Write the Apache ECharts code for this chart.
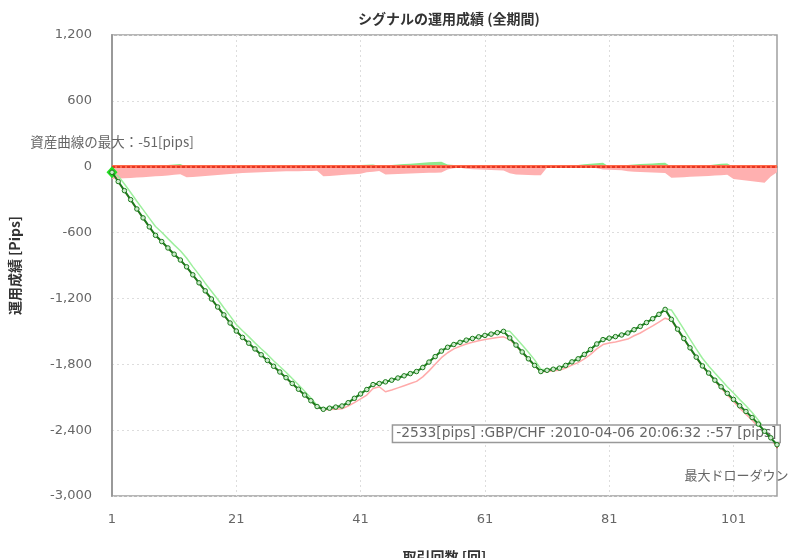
<!DOCTYPE html>
<html><head><meta charset="utf-8">
<script src="https://cdn.jsdelivr.net/npm/echarts@6/dist/echarts.min.js"></script>
<style>html,body{margin:0;padding:0;background:#fff}#c{width:789px;height:558px}</style>
</head><body><div id="c"></div>
<script>
const titleText = 'シグナルの運用成績 (全期間)';
const xName = '取引回数 [回]';
const yName = '運用成績 [Pips]';
const trades = ['1','2','3','4','5','6','7','8','9','10','11','12','13','14','15','16','17','18','19','20',
'21','22','23','24','25','26','27','28','29','30','31','32','33','34','35','36','37','38','39','40',
'41','42','43','44','45','46','47','48','49','50','51','52','53','54','55','56','57','58','59','60',
'61','62','63','64','65','66','67','68','69','70','71','72','73','74','75','76','77','78','79','80',
'81','82','83','84','85','86','87','88','89','90','91','92','93','94','95','96','97','98','99','100',
'101','102','103','104','105','106','107','108'];
const yMin = -3000, yMax = 1200, yStep = 600;
const equity = [-51,-135,-218,-300,-385,-466,-548,-625,-682,-740,-797,-850,-912,-985,-1058,-1131,-1205,-1278,-1350,-1424,
-1497,-1555,-1608,-1660,-1713,-1765,-1818,-1870,-1922,-1975,-2027,-2080,-2132,-2185,-2210,-2200,-2190,-2180,-2150,-2110,
-2070,-2030,-1985,-1975,-1960,-1945,-1925,-1905,-1885,-1866,-1830,-1780,-1730,-1680,-1645,-1620,-1600,-1580,-1565,-1550,
-1537,-1525,-1512,-1500,-1560,-1625,-1688,-1750,-1810,-1866,-1855,-1845,-1835,-1810,-1778,-1750,-1710,-1665,-1615,-1575,
-1562,-1548,-1533,-1515,-1485,-1455,-1420,-1385,-1345,-1300,-1390,-1480,-1565,-1650,-1735,-1815,-1880,-1945,-2005,-2065,
-2120,-2178,-2230,-2285,-2345,-2410,-2470,-2533];
const equityHigh = [-51,-85,-158,-235,-315,-391,-468,-545,-597,-655,-712,-765,-832,-910,-983,-1061,-1135,-1208,-1285,-1359,
-1437,-1495,-1548,-1605,-1658,-1710,-1768,-1820,-1872,-1930,-1987,-2045,-2107,-2175,-2205,-2195,-2185,-2175,-2145,-2105,
-2065,-2025,-1980,-1970,-1955,-1940,-1920,-1900,-1880,-1861,-1825,-1775,-1725,-1675,-1640,-1615,-1595,-1575,-1560,-1545,
-1532,-1520,-1507,-1495,-1500,-1560,-1625,-1690,-1760,-1845,-1850,-1840,-1830,-1805,-1773,-1745,-1705,-1660,-1610,-1570,
-1557,-1543,-1528,-1510,-1480,-1450,-1415,-1380,-1340,-1295,-1305,-1390,-1480,-1570,-1660,-1745,-1815,-1880,-1942,-2005,
-2062,-2122,-2178,-2240,-2310,-2385,-2455,-2530];
const equityLow = [-54,-138,-221,-303,-388,-469,-551,-628,-685,-743,-800,-853,-915,-988,-1061,-1134,-1208,-1281,-1353,-1427,
-1500,-1558,-1611,-1663,-1716,-1768,-1821,-1873,-1925,-1978,-2030,-2083,-2135,-2188,-2215,-2212,-2210,-2205,-2180,-2150,
-2115,-2080,-2020,-2005,-2050,-2035,-2015,-1995,-1975,-1956,-1915,-1860,-1800,-1740,-1695,-1660,-1636,-1615,-1600,-1585,
-1575,-1565,-1557,-1550,-1575,-1632,-1692,-1753,-1812,-1868,-1865,-1860,-1855,-1835,-1808,-1785,-1750,-1710,-1660,-1620,
-1607,-1596,-1583,-1570,-1540,-1515,-1482,-1450,-1415,-1380,-1400,-1485,-1570,-1655,-1740,-1820,-1885,-1952,-2015,-2080,
-2140,-2200,-2255,-2310,-2372,-2435,-2495,-2545];
const gainBand = [0,0,0,0,0,0,0,8,12,16,20,24,0,0,0,0,0,0,0,10,
14,0,0,0,0,0,0,0,0,0,0,0,0,0,0,0,0,0,0,10,
15,18,20,8,12,16,20,24,28,32,36,40,44,45,20,15,5,0,0,0,
0,0,0,0,0,0,0,0,0,0,0,0,0,0,10,16,22,28,32,35,
0,8,12,16,20,24,28,30,33,35,0,0,0,0,0,8,14,20,26,30,
0,0,0,0,0,0,0,0];
const lossBand = [-112,-108,-105,-102,-99,-96,-92,-88,-84,-79,-74,-68,-97,-93,-89,-84,-80,-75,-70,-66,
-62,-58,-55,-52,-50,-48,-46,-44,-42,-42,-41,-40,-38,-36,-88,-84,-80,-76,-72,-68,
-63,-50,-45,-40,-70,-68,-66,-64,-62,-60,-58,-56,-54,-52,-25,-15,-10,-18,-22,-25,
-28,-30,-32,-35,-60,-72,-74,-76,-77,-78,-8,-6,-6,-6,-6,-6,-6,-6,-15,-25,
-28,-30,-32,-42,-45,-48,-50,-52,-55,-57,-100,-98,-95,-92,-90,-87,-84,-80,-77,-73,
-112,-118,-125,-132,-140,-145,-90,-50];
const maxEquityText = '資産曲線の最大：-51[pips]';
const maxDrawdownText = '最大ドローダウン：-2482[pips]';
const lastTradeText = '-2533[pips] :GBP/CHF :2010-04-06 20:06:32 :-57 [pips]';

const lastIdx = equity.length - 1;
const chart = echarts.init(document.getElementById('c'), null, {renderer: 'canvas'});
const fam = '"DejaVu Sans", Verdana, sans-serif';
const cjk = '"Noto Sans CJK JP", "DejaVu Sans", sans-serif';
chart.setOption({
  animation: false,
  backgroundColor: '#fff',
  title: {text: titleText, left: 444, top: 7, textAlign: 'center',
    textStyle: {fontFamily: cjk, fontSize: 14, fontWeight: 'bold', color: '#333'}},
  grid: {left: 112, right: 12, top: 35, bottom: 62, show: true, borderColor: '#a0a0a0', borderWidth: 1.5,
    containLabel: false, outerBoundsMode: 'none'},
  xAxis: {
    type: 'category', data: trades, boundaryGap: false,
    name: xName, nameLocation: 'middle', nameGap: 54,
    nameTextStyle: {fontFamily: cjk, fontSize: 14, fontWeight: 'bold', color: '#333'},
    axisLine: {show: true, lineStyle: {color: '#999', width: 2}},
    axisTick: {show: false},
    axisLabel: {interval: 19, margin: 17, fontFamily: fam, fontSize: 13, color: '#666'},
    splitLine: {show: true, interval: 19, lineStyle: {color: '#ddd', type: [2, 3], width: 1}}
  },
  yAxis: {
    type: 'value', min: yMin, max: yMax, interval: yStep,
    name: yName, nameLocation: 'middle', nameGap: 90, nameRotate: 90,
    nameTextStyle: {fontFamily: cjk, fontSize: 14, fontWeight: 'bold', color: '#333'},
    axisLine: {show: true, lineStyle: {color: '#999', width: 2}},
    axisTick: {show: false},
    axisLabel: {margin: 20, fontFamily: fam, fontSize: 13, color: '#666',
      formatter: v => v.toLocaleString('en-US')},
    splitLine: {show: true, lineStyle: {color: '#ddd', type: [2, 3], width: 1}}
  },
  series: [
    {name: 'loss', type: 'line', data: lossBand, symbol: 'none', lineStyle: {width: 0},
      areaStyle: {color: '#ffb0b0', opacity: 1}, z: 1,
      markLine: {silent: true, symbol: 'none', label: {show: false},
        data: [{yAxis: 0}], lineStyle: {color: '#ff6a4a', width: 3, type: 'solid'}}},
    {name: 'gain', type: 'line', data: gainBand, symbol: 'none', lineStyle: {width: 0},
      areaStyle: {color: '#8ee88e', opacity: 1}, z: 1,
      markLine: {silent: true, symbol: 'none', label: {show: false},
        data: [{yAxis: 0}], lineStyle: {color: '#e0251a', width: 1.5, type: [3, 2]}}},
    {name: 'low', type: 'line', data: equityLow, symbol: 'none',
      lineStyle: {color: '#ffaaaa', width: 1.5}, z: 3},
    {name: 'high', type: 'line', data: equityHigh, symbol: 'none',
      lineStyle: {color: '#9ef09e', width: 1.5}, z: 3},
    {name: 'equity', type: 'line', data: equity, symbol: 'circle', symbolSize: 4.5, showAllSymbol: true,
      itemStyle: {color: '#cdeccd', borderColor: '#1c7a1c', borderWidth: 1},
      lineStyle: {color: '#1c7a1c', width: 2}, z: 5,
      markPoint: {
        data: [
          {coord: [0, equity[0]], symbol: 'diamond', symbolSize: [11, 12],
            itemStyle: {color: '#22dd22', borderWidth: 0},
            label: {show: true, position: 'top', distance: 18, formatter: maxEquityText,
              fontFamily: cjk, fontSize: 13.5, color: '#666'}},
          {coord: [lastIdx, equity[lastIdx]], symbol: 'triangle', symbolRotate: 180, symbolSize: 8,
            itemStyle: {color: '#e02020', borderWidth: 0},
            label: {show: true, position: 'bottom', distance: 20, formatter: maxDrawdownText,
              fontFamily: cjk, fontSize: 13, color: '#666'}},
          {coord: [lastIdx, equity[lastIdx]], symbol: 'circle', symbolSize: 1,
            itemStyle: {color: 'rgba(0,0,0,0)', borderWidth: 0},
            label: {show: true, position: 'left', distance: 0, offset: [3, -11],
              formatter: lastTradeText, fontFamily: fam, fontSize: 13.8, color: '#666',
              backgroundColor: '#fff', borderColor: '#999', borderWidth: 1.5, padding: [1, 3]}}
        ]
      }}
  ]
});
</script></body></html>
